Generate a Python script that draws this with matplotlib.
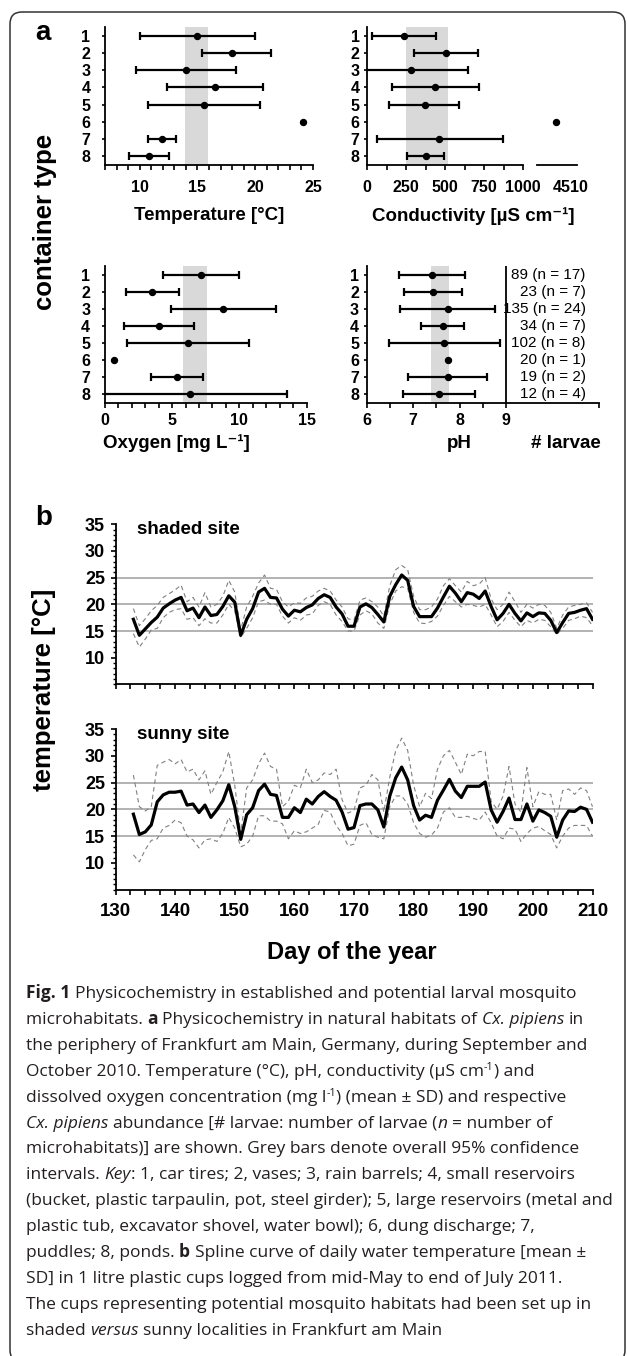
import numpy as np
import matplotlib
matplotlib.use('Agg')
import matplotlib.pyplot as plt
import matplotlib.transforms as mtransforms
from matplotlib.patches import FancyBboxPatch
from matplotlib.ticker import MultipleLocator, FixedLocator

plt.rcParams['font.family'] = ['Liberation Sans', 'DejaVu Sans']
plt.rcParams['font.weight'] = 'bold'

nan = np.nan

# --- panel a: container types 1..8 (mean, lower and upper end of the SD bar) ---
containers = ['1', '2', '3', '4', '5', '6', '7', '8']

temp_mean = [15.0, 18.0, 14.0, 16.5, 15.6, 24.1, 11.95, 10.8]
temp_low = [10.0, 15.4, 9.7, 12.35, 10.75, nan, 10.75, 9.05]
temp_high = [20.0, 21.4, 18.3, 20.7, 20.4, nan, 13.15, 12.5]
temp_ci = (13.9, 15.9)

cond_mean = [236, 508, 281, 437, 369, 4510, 463, 375]
cond_low = [32, 300, -80, 159, 141, nan, 62, 257]
cond_high = [442, 712, 645, 718, 592, nan, 871, 495]
cond_ci = (250, 520)

oxy_mean = [7.13, 3.51, 8.78, 4.01, 6.18, 0.69, 5.35, 6.33]
oxy_low = [4.3, 1.56, 4.92, 1.43, 1.68, nan, 3.44, -0.8]
oxy_high = [9.97, 5.54, 12.72, 6.61, 10.74, nan, 7.28, 13.51]
oxy_ci = (5.8, 7.6)

ph_mean = [7.41, 7.42, 7.74, 7.63, 7.67, 7.74, 7.74, 7.56]
ph_low = [6.70, 6.80, 6.71, 7.17, 6.48, nan, 6.89, 6.79]
ph_high = [8.11, 8.05, 8.75, 8.09, 8.86, nan, 8.59, 8.33]
ph_ci = (7.39, 7.77)

larvae = [89, 23, 135, 34, 102, 20, 19, 12]
n_habitats = [17, 7, 24, 7, 8, 1, 2, 4]

# --- panel b: daily water temperature, day 133..210 ---
days = np.arange(133, 211)

shaded_mean = [17.2, 14.2, 15.4, 16.6, 17.6, 19.3, 20.1, 20.8, 21.3, 18.8,
               19.3, 17.5, 19.5, 17.9, 18.1, 19.6, 21.6, 20.4, 14.2, 17.2,
               19.2, 22.3, 23.0, 21.3, 21.2, 19.1, 17.8, 18.9, 18.6, 19.4,
               19.9, 21.1, 21.8, 21.3, 19.5, 18.2, 15.9, 15.9, 19.5, 20.1,
               19.4, 18.1, 16.7, 21.5, 23.7, 25.5, 24.5, 19.6, 17.7, 17.7,
               17.7, 19.3, 21.4, 23.4, 22.1, 20.5, 22.2, 21.9, 21.1, 22.5,
               19.6, 17.1, 18.3, 20.0, 18.3, 16.9, 18.4, 17.7, 18.4, 18.3,
               17.0, 14.7, 16.6, 18.3, 18.5, 18.9, 19.2, 17.2]
shaded_up = [19.2, 16.0, 17.3, 18.8, 19.8, 21.3, 22.0, 22.7, 23.6, 20.5,
             21.3, 19.5, 22.2, 19.5, 20.0, 21.5, 24.5, 22.3, 15.2, 19.5,
             21.5, 24.0, 25.5, 23.0, 22.8, 20.5, 19.5, 20.3, 20.2, 21.2,
             21.5, 22.5, 23.0, 22.5, 20.8, 19.5, 17.3, 17.0, 20.8, 21.2,
             20.5, 19.5, 17.8, 23.5, 26.5, 27.3, 26.5, 21.5, 19.0, 19.0,
             19.5, 21.0, 23.5, 24.8, 23.5, 22.3, 24.3, 23.5, 23.8, 25.0,
             21.0, 19.0, 20.0, 22.3, 20.5, 18.5, 20.0, 19.3, 20.0, 19.8,
             18.5, 15.5, 18.0, 19.5, 19.8, 20.0, 20.3, 18.5]
shaded_lo = [14.5, 12.0, 13.5, 15.2, 15.5, 17.5, 18.5, 19.0, 19.2, 17.2,
             17.5, 16.0, 17.3, 16.5, 16.5, 18.0, 20.0, 18.8, 13.8, 15.5,
             17.5, 20.5, 20.8, 20.0, 20.0, 17.8, 16.5, 17.5, 17.0, 18.0,
             18.2, 19.8, 20.5, 20.0, 18.0, 16.8, 15.0, 15.0, 18.0, 18.8,
             18.2, 16.5, 15.5, 20.0, 22.5, 23.3, 23.0, 18.5, 16.5, 16.4,
             16.8, 17.8, 19.8, 21.5, 20.5, 19.5, 20.0, 19.8, 19.5, 20.0,
             18.0, 15.8, 16.8, 18.5, 17.0, 15.8, 17.0, 16.5, 17.2, 17.0,
             15.8, 14.4, 15.5, 17.0, 17.3, 17.8, 17.5, 16.0]

sunny_mean = [19.1, 15.3, 15.8, 17.1, 21.4, 22.7, 23.2, 23.2, 23.4, 20.8,
              21.0, 19.4, 20.8, 18.5, 19.9, 21.6, 24.6, 20.5, 14.4, 19.0,
              20.3, 23.5, 24.7, 22.8, 22.6, 18.5, 18.5, 20.3, 19.4, 21.9,
              21.0, 22.4, 23.3, 22.4, 21.7, 19.5, 16.3, 16.6, 20.7, 21.0,
              21.0, 19.9, 16.7, 22.5, 25.9, 27.9, 25.5, 20.7, 18.0, 18.9,
              18.5, 21.7, 23.6, 25.6, 23.4, 22.2, 24.3, 24.3, 24.3, 25.1,
              19.9, 17.6, 19.6, 22.1, 18.1, 18.1, 21.0, 17.8, 19.9, 19.4,
              18.7, 14.8, 18.0, 19.7, 19.6, 20.4, 20.0, 17.6]
sunny_up = [26.4, 20.5, 19.7, 20.5, 28.2, 28.8, 29.3, 28.5, 29.3, 27.0,
            27.5, 25.5, 27.2, 22.8, 25.0, 27.0, 30.8, 24.5, 15.5, 24.0,
            25.5, 28.5, 30.5, 28.0, 27.5, 20.5, 21.5, 24.5, 24.0, 27.5,
            25.0, 25.5, 26.8, 26.5, 27.5, 21.8, 19.3, 19.8, 24.0, 24.5,
            26.5, 25.5, 19.5, 26.0, 31.0, 33.3, 31.0, 24.5, 20.5, 23.0,
            22.0, 27.5, 30.0, 31.0, 28.8, 26.5, 30.3, 30.0, 30.8, 30.8,
            21.5, 20.0, 22.5, 28.0, 21.0, 19.5, 27.8, 20.5, 23.3, 22.8,
            22.8, 18.0, 23.5, 23.8, 22.8, 24.0, 23.5, 20.5]
sunny_lo = [11.5, 10.2, 12.5, 14.2, 14.5, 16.5, 17.0, 18.0, 17.5, 15.0,
            14.3, 12.8, 14.3, 14.5, 14.0, 15.5, 18.5, 16.5, 13.0, 13.5,
            15.0, 18.8, 18.8, 17.8, 17.8, 17.3, 14.5, 16.0, 15.5, 15.8,
            16.5, 17.2, 19.8, 19.5, 17.0, 15.5, 13.2, 13.5, 17.0, 17.5,
            15.3, 14.8, 14.5, 20.5, 22.5, 22.5, 21.0, 17.5, 15.5, 14.8,
            15.2, 16.5, 19.5, 20.3, 18.5, 18.5, 18.7, 18.3, 18.0, 19.5,
            17.5, 15.0, 14.5, 16.5, 16.3, 14.0, 15.5, 16.5, 16.8, 16.0,
            15.3, 12.8, 15.0, 16.5, 17.0, 17.0, 17.0, 15.0]

caption_lines = [
    [("Fig. 1", 'b'), (" Physicochemistry in established and potential larval mosquito", 'r')],
    [("microhabitats. ", 'r'), ("a", 'b'), (" Physicochemistry in natural habitats of ", 'r'),
     ("Cx. pipiens", 'i'), (" in", 'r')],
    [("the periphery of Frankfurt am Main, Germany, during September and", 'r')],
    [("October 2010. Temperature (\u00b0C), pH, conductivity (\u00b5S cm", 'r'), ("-1", 's'), (") and", 'r')],
    [("dissolved oxygen concentration (mg l", 'r'), ("-1", 's'), (") (mean \u00b1 SD) and respective", 'r')],
    [("Cx. pipiens", 'i'), (" abundance [# larvae: number of larvae (", 'r'), ("n", 'i'),
     (" = number of", 'r')],
    [("microhabitats)] are shown. Grey bars denote overall 95% confidence", 'r')],
    [("intervals. ", 'r'), ("Key", 'i'), (": 1, car tires; 2, vases; 3, rain barrels; 4, small reservoirs", 'r')],
    [("(bucket, plastic tarpaulin, pot, steel girder); 5, large reservoirs (metal and", 'r')],
    [("plastic tub, excavator shovel, water bowl); 6, dung discharge; 7,", 'r')],
    [("puddles; 8, ponds. ", 'r'), ("b", 'b'), (" Spline curve of daily water temperature [mean \u00b1", 'r')],
    [("SD] in 1 litre plastic cups logged from mid-May to end of July 2011.", 'r')],
    [("The cups representing potential mosquito habitats had been set up in", 'r')],
    [("shaded ", 'r'), ("versus", 'i'), (" sunny localities in Frankfurt am Main", 'r')],
]

W, H = 627, 1356
fig = plt.figure(figsize=(W / 100, H / 100), dpi=100)


def box(l, t, r, b):
    return [l / W, 1 - b / H, (r - l) / W, (b - t) / H]


def ftext(x, y, s, **kw):
    return fig.text(x / W, 1 - y / H, s, **kw)


def cond_pos(v):
    # broken conductivity axis: values above 1000 go on the short right segment
    return v if v <= 1000 else 1088 + (v - 4200) * 0.4


def rows_panel(ax, mean, low, high, ci, ypad, xpad):
    y = np.arange(1, len(containers) + 1)
    m = np.array(mean, float)
    lo = np.array(low, float)
    hi = np.array(high, float)
    ax.axvspan(ci[0], ci[1], color='#d9d9d9', lw=0, zorder=0)
    ax.errorbar(m, y, xerr=[m - lo, hi - m], fmt='o', color='black', ms=4.3,
                lw=1.6, capsize=3, capthick=1.6, zorder=3)
    ax.set_ylim(8.5, 0.5)
    ax.set_yticks(y)
    ax.set_yticklabels(containers)
    for s in ('top', 'right'):
        ax.spines[s].set_visible(False)
    for s in ('left', 'bottom'):
        ax.spines[s].set_linewidth(1.3)
    ax.tick_params(axis='y', length=2.5, width=1.2, pad=ypad, labelsize=11.5)
    ax.tick_params(axis='x', which='both', length=3.5, width=1.2, pad=xpad, labelsize=11.5)
    ax.patch.set_alpha(0)


# temperature
ax_t = fig.add_axes(box(105, 27, 313, 165))
rows_panel(ax_t, temp_mean, temp_low, temp_high, temp_ci, 8, 7.5)
ax_t.set_xlim(7, 25)
ax_t.set_xticks([10, 15, 20, 25])
ax_t.xaxis.set_minor_locator(MultipleLocator(1))

# conductivity (broken x axis)
ax_c = fig.add_axes(box(367.3, 27, 576.7, 165))
rows_panel(ax_c, [cond_pos(v) for v in cond_mean], cond_low, cond_high, cond_ci, 3, 7.5)
ax_c.set_xlim(0, 1345)
ax_c.set_xticks([0, 250, 500, 750, 1000])
ax_c.xaxis.set_minor_locator(FixedLocator([125, 375, 625, 875]))
ax_c.spines['bottom'].set_visible(False)
xt = ax_c.get_xaxis_transform()
ax_c.plot([0, 1000], [0, 0], color='black', lw=1.3, transform=xt, clip_on=False)
ax_c.plot([1088, 1345], [0, 0], color='black', lw=1.3, transform=xt, clip_on=False)
ax_c.annotate('4510', xy=(cond_pos(4510), 0), xycoords=xt, xytext=(15, -23),
              textcoords='offset pixels', ha='center', va='center', fontsize=11.5)

# oxygen
ax_o = fig.add_axes(box(104.7, 266, 306.7, 403))
rows_panel(ax_o, oxy_mean, oxy_low, oxy_high, oxy_ci, 8, 3.5)
ax_o.set_xlim(0, 15)
ax_o.set_xticks([0, 5, 10, 15])
ax_o.xaxis.set_minor_locator(MultipleLocator(1))

# pH + larvae counts
ax_p = fig.add_axes(box(366.7, 266, 599.3, 403))
rows_panel(ax_p, ph_mean, ph_low, ph_high, ph_ci, 3, 3.5)
ax_p.set_xlim(6, 11)
ax_p.set_xticks([6, 7, 8, 9])
ax_p.xaxis.set_minor_locator(FixedLocator([6.5, 7.5, 8.5, 11]))
ax_p.axvline(9, color='black', lw=1.3)
bt = mtransforms.blended_transform_factory(ax_p.transAxes, ax_p.transData)
for i, (nl, nh) in enumerate(zip(larvae, n_habitats)):
    ax_p.text(0.9415, i + 1, f'{nl} (n = {nh})', transform=bt, ha='right', va='center',
              fontsize=11, fontweight='normal')

ftext(43, 33, 'a', fontsize=20, ha='center', va='center')
ftext(45, 222, 'container type', fontsize=18.5, rotation=90, ha='center', va='center')
ftext(209, 216, 'Temperature [\u00b0C]', fontsize=13.5, ha='center', va='center')
ftext(473, 216, 'Conductivity [\u00b5S cm\u207b\u00b9]', fontsize=13.5, ha='center', va='center')
ftext(176, 443, 'Oxygen [mg L\u207b\u00b9]', fontsize=13.5, ha='center', va='center')
ftext(459, 443, 'pH', fontsize=13.5, ha='center', va='center')
ftext(566, 443, '# larvae', fontsize=13.5, ha='center', va='center')

# --- panel b ---
def temp_panel(ax, mean, up, lo, title, labels):
    for g in (15, 20, 25):
        ax.axhline(g, color='#a6a6a6', lw=1.2, zorder=0)
    ax.plot(days, up, color='#808080', lw=0.8, dashes=(4, 3))
    ax.plot(days, lo, color='#808080', lw=0.8, dashes=(4, 3))
    ax.plot(days, mean, color='black', lw=2.3, solid_joinstyle='round')
    ax.set_xlim(130, 210)
    ax.set_ylim(5, 35)
    ax.set_yticks([10, 15, 20, 25, 30, 35])
    ax.yaxis.set_minor_locator(MultipleLocator(1))
    ax.set_xticks(np.arange(130, 211, 10))
    ax.xaxis.set_minor_locator(MultipleLocator(2.5))
    for s in ('top', 'right'):
        ax.spines[s].set_visible(False)
    for s in ('left', 'bottom'):
        ax.spines[s].set_linewidth(1.3)
    ax.tick_params(axis='y', which='major', length=3.5, width=1.2, pad=4, labelsize=13)
    ax.tick_params(axis='y', which='minor', length=2.5, width=1)
    ax.tick_params(axis='x', which='both', length=3.5, width=1.2, pad=6, labelsize=13.5,
                   labelbottom=labels)
    ax.text(0.045, 0.965, title, transform=ax.transAxes, fontsize=13.5, ha='left', va='center')
    ax.patch.set_alpha(0)


ax_s = fig.add_axes(box(115.5, 524.3, 592.5, 684.4))
temp_panel(ax_s, shaded_mean, shaded_up, shaded_lo, 'shaded site', False)
ax_u = fig.add_axes(box(115.5, 729, 592.5, 889.7))
temp_panel(ax_u, sunny_mean, sunny_up, sunny_lo, 'sunny site', True)

ftext(44, 518, 'b', fontsize=20, ha='center', va='center')
ftext(44, 690, 'temperature [\u00b0C]', fontsize=18.5, rotation=90, ha='center', va='center')
ftext(352, 952, 'Day of the year', fontsize=17, ha='center', va='center')

# --- caption ---
renderer = fig.canvas.get_renderer()
cap_color = '#231f20'
cap_font = ['Open Sans', 'DejaVu Sans']


def style_kw(st, size):
    kw = dict(family=cap_font, color=cap_color, fontsize=size, fontweight='normal')
    if st == 'b':
        kw['fontweight'] = 'bold'
    elif st == 'i':
        kw['style'] = 'italic'
    elif st == 's':
        kw['fontsize'] = size * 0.62
    return kw


def text_w(s, kw):
    t = fig.text(0, 0, '|' + s + '|', **kw)
    w1 = t.get_window_extent(renderer).width
    t.remove()
    t = fig.text(0, 0, '||', **kw)
    w0 = t.get_window_extent(renderer).width
    t.remove()
    return w1 - w0


# fit the caption size so the longest line spans the measured width
probe = caption_lines[8][0][0]
cap_size = 10 * 586 / text_w(probe, style_kw('r', 10))

y_line = 998
for line in caption_lines:
    x = 26
    for s, st in line:
        kw = style_kw(st, cap_size)
        lead = len(s) - len(s.lstrip(' '))
        x += lead * text_w(' ', kw)
        body = s.lstrip(' ')
        dy = -6 if st == 's' else 0
        ftext(x, y_line + dy, body, va='baseline', ha='left', **kw)
        x += text_w(body, kw)
    y_line += 25.9

# rounded frame around the whole figure
frame = FancyBboxPatch((10, H - 1362), 615, 1350, boxstyle='round,pad=0,rounding_size=12',
                       transform=mtransforms.IdentityTransform(), fill=False,
                       ec='#333333', lw=1.1)
fig.add_artist(frame)

fig.savefig('out.png', dpi=100)
